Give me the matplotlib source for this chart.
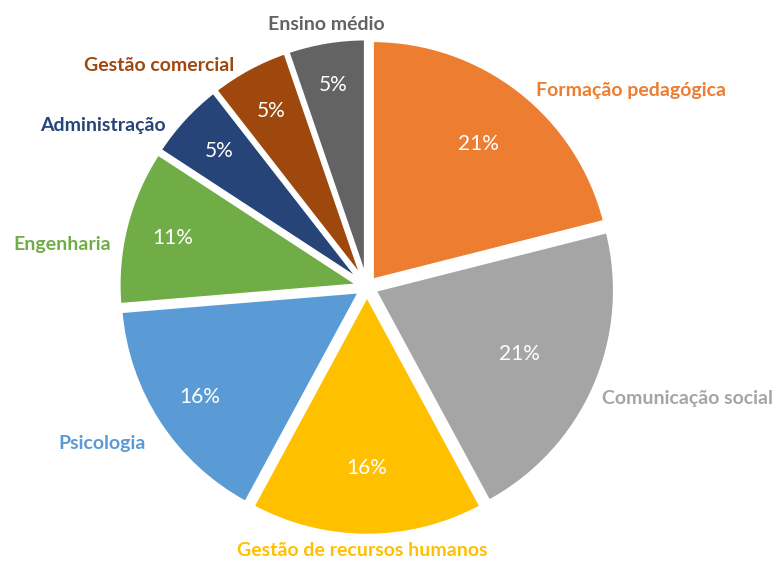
import numpy as np
import matplotlib.pyplot as plt

categorias = ["Formação pedagógica", "Comunicação social", "Gestão de recursos humanos",
              "Psicologia", "Engenharia", "Administração", "Gestão comercial", "Ensino médio"]
quantidades = [4, 4, 3, 3, 2, 1, 1, 1]
cores = ["#ED7D31", "#A5A5A5", "#FFC000", "#5B9BD5", "#70AD47", "#264478", "#9E480E", "#636363"]

plt.rcParams["font.family"] = ["Lato", "DejaVu Sans"]

fig = plt.figure(figsize=(7.8, 5.61), dpi=100)
ax = fig.add_axes([0, 0, 1, 1])

r = 240.0          # raio em pixels
cx, cy = 367.0, 287.0

wedges, texts, autotexts = ax.pie(
    quantidades, labels=categorias, colors=cores, startangle=90, counterclock=False,
    explode=[0.035] * len(quantidades), autopct="%1.0f%%", pctdistance=0.72,
    labeldistance=1.1, wedgeprops=dict(edgecolor="white", linewidth=2.5),
    textprops=dict(fontsize=14, fontweight="bold"))

# ajustes finos dos rótulos (pixels: dx para a direita, dy para baixo)
desloc = [(2, 18), (-14, 2), (-5, -9), (7, 8), (8, 24), (-1, 23), (-3, 18), (4, 6)]
alinh = ["left", "left", "center", "right", "right", "right", "right", "center"]
for t, c, (dx, dy), ha in zip(texts, cores, desloc, alinh):
    x, y = t.get_position()
    t.set_position((x + dx / r, y - dy / r))
    t.set_color(c)
    t.set_va("center")
    t.set_ha(ha)

# distância radial das percentagens
raio_pct = [0.72, 0.66, 0.72, 0.8, 0.8, 0.8, 0.8, 0.82]
for t, w, f in zip(autotexts, wedges, raio_pct):
    ang = np.deg2rad((w.theta1 + w.theta2) / 2)
    x0, y0 = w.center
    t.set_position((x0 + f * np.cos(ang), y0 + f * np.sin(ang)))
    t.set_color("white")
    t.set_fontsize(15)
    t.set_fontweight("normal")

ax.set_aspect("auto")
ax.set_xlim(-cx / r, (780 - cx) / r)
ax.set_ylim(-(561 - cy) / r, cy / r)
ax.axis("off")

fig.savefig("out.png", dpi=100)
